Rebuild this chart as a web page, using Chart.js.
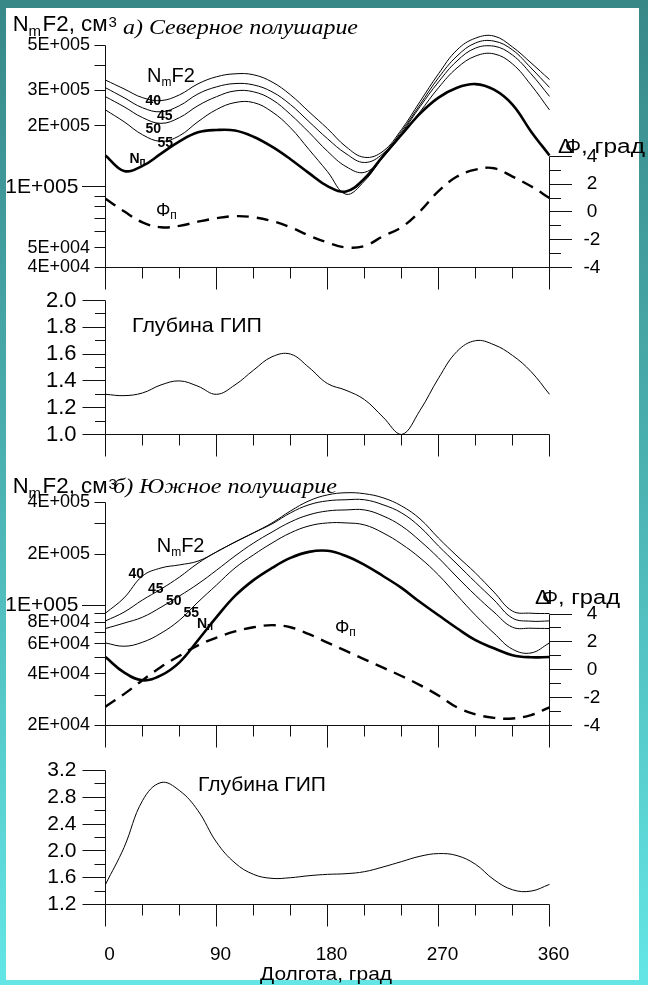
<!DOCTYPE html>
<html>
<head>
<meta charset="utf-8">
<script src="https://cdn.jsdelivr.net/npm/chart.js@4/dist/chart.umd.min.js"></script>
<style>
  html, body { margin: 0; padding: 0; }
  body {
    width: 648px; height: 985px; position: relative; overflow: hidden;
    background: linear-gradient(to bottom, #388888 0%, #4cb3b3 50%, #64e6e6 100%);
  }
  #sheet { position: absolute; left: 6px; top: 8px; width: 633px; height: 972px; background: #fff; }
  canvas { position: absolute; left: 0; top: 0; }
</style>
</head>
<body>
<div id="sheet"></div>
<canvas id="northNe" width="648" height="985"></canvas>
<canvas id="northDepthChart" width="648" height="985"></canvas>
<canvas id="southNe" width="648" height="985"></canvas>
<canvas id="southDepthChart" width="648" height="985"></canvas>
<script>
// ---- longitude grid and axis ticks ----
const longitudes = [0, 15, 30, 45, 60, 75, 90, 105, 120, 135, 150, 165, 180,
                    195, 210, 225, 240, 255, 270, 285, 300, 315, 330, 345, 360];
const lonTicks  = [0, 30, 60, 90, 120, 150, 180, 210, 240, 270, 300, 330, 360];
const lonLabels = [0, 90, 180, 270, 360];

const northNeTicks  = [4e4, 5e4, 6e4, 7e4, 8e4, 9e4, 1e5, 2e5, 3e5, 4e5, 5e5];
const northNeLabels = [4e4, 5e4, 1e5, 2e5, 3e5, 5e5];
const southNeTicks  = [2e4, 3e4, 4e4, 5e4, 6e4, 7e4, 8e4, 9e4, 1e5, 2e5, 3e5, 4e5];
const southNeLabels = [2e4, 4e4, 6e4, 8e4, 1e5, 2e5, 4e5];
const dPhiTicks  = [-4, -3, -2, -1, 0, 1, 2, 3, 4];
const dPhiLabels = [-4, -2, 0, 2, 4];
const northDepthTicks  = [1.0, 1.1, 1.2, 1.3, 1.4, 1.5, 1.6, 1.7, 1.8, 1.9, 2.0];
const northDepthLabels = [1.0, 1.2, 1.4, 1.6, 1.8, 2.0];
const southDepthTicks  = [1.2, 1.4, 1.6, 1.8, 2.0, 2.2, 2.4, 2.6, 2.8, 3.0, 3.2];
const southDepthLabels = [1.2, 1.6, 2.0, 2.4, 2.8, 3.2];

// ---- а) Северное полушарие: NmF2 (см^-3) at latitudes 40..55, trough minimum Nп ----
const north40 = [3.37e5, 3.05e5, 2.76e5, 2.67e5, 2.85e5, 3.23e5, 3.50e5, 3.62e5, 3.58e5, 3.30e5, 2.85e5, 2.35e5, 1.94e5,
                 1.58e5, 1.40e5, 1.50e5, 1.92e5, 2.64e5, 3.62e5, 4.75e5, 5.43e5, 5.56e5, 4.91e5, 4.10e5, 3.39e5];
const north45 = [3.09e5, 2.76e5, 2.46e5, 2.35e5, 2.52e5, 2.88e5, 3.12e5, 3.24e5, 3.19e5, 2.95e5, 2.55e5, 2.10e5, 1.73e5,
                 1.46e5, 1.32e5, 1.46e5, 1.88e5, 2.55e5, 3.46e5, 4.43e5, 5.14e5, 5.25e5, 4.75e5, 3.87e5, 3.10e5];
const north50 = [2.79e5, 2.49e5, 2.20e5, 2.06e5, 2.20e5, 2.52e5, 2.79e5, 2.98e5, 2.95e5, 2.70e5, 2.28e5, 1.86e5, 1.50e5,
                 1.26e5, 1.18e5, 1.40e5, 1.84e5, 2.49e5, 3.30e5, 4.19e5, 4.85e5, 4.96e5, 4.48e5, 3.62e5, 2.80e5];
const north55 = [2.40e5, 2.10e5, 1.81e5, 1.68e5, 1.79e5, 2.10e5, 2.41e5, 2.61e5, 2.61e5, 2.35e5, 1.96e5, 1.53e5, 1.19e5,
                 9.2e4, 1.07e5, 1.41e5, 1.81e5, 2.35e5, 3.09e5, 3.87e5, 4.43e5, 4.54e5, 4.05e5, 3.19e5, 2.40e5];
const northTrough = [1.43e5, 1.20e5, 1.27e5, 1.46e5, 1.68e5, 1.86e5, 1.91e5, 1.90e5, 1.77e5, 1.58e5, 1.37e5, 1.17e5, 1.01e5,
                     9.5e4, 1.10e5, 1.42e5, 1.81e5, 2.30e5, 2.76e5, 3.09e5, 3.22e5, 3.02e5, 2.55e5, 1.88e5, 1.43e5];
// trough position offset ΔΦ, град
const northPhi = [0.95, 0.05, -0.75, -1.1, -1.0, -0.7, -0.45, -0.3, -0.38, -0.65, -1.1, -1.7, -2.2,
                  -2.55, -2.45, -1.75, -1.1, 0.05, 1.5, 2.55, 3.05, 3.15, 2.55, 1.85, 1.0];
// trough depth (Глубина ГИП)
const northDepth = [1.30, 1.29, 1.31, 1.37, 1.40, 1.36, 1.30, 1.37, 1.48, 1.58, 1.60, 1.50, 1.38,
                    1.33, 1.26, 1.13, 1.00, 1.18, 1.42, 1.62, 1.70, 1.67, 1.59, 1.47, 1.30];

// ---- б) Южное полушарие ----
const south40 = [9.05e4, 1.11e5, 1.49e5, 1.66e5, 1.73e5, 1.82e5, 2.06e5, 2.35e5, 2.66e5, 3.04e5, 3.57e5, 4.09e5, 4.43e5,
                 4.56e5, 4.50e5, 4.26e5, 3.82e5, 3.21e5, 2.48e5, 1.95e5, 1.55e5, 1.20e5, 9.3e4, 9.04e4, 9.0e4];
const south45 = [8.15e4, 9.17e4, 1.08e5, 1.25e5, 1.47e5, 1.77e5, 2.06e5, 2.35e5, 2.66e5, 3.00e5, 3.48e5, 3.88e5, 4.09e5,
                 4.15e5, 4.15e5, 3.88e5, 3.48e5, 2.88e5, 2.23e5, 1.75e5, 1.37e5, 1.08e5, 8.46e4, 8.12e4, 8.15e4];
const south50 = [7.36e4, 7.91e4, 8.57e4, 9.80e4, 1.14e5, 1.34e5, 1.61e5, 1.95e5, 2.32e5, 2.69e5, 3.08e5, 3.39e5, 3.57e5,
                 3.62e5, 3.62e5, 3.34e5, 2.92e5, 2.39e5, 1.90e5, 1.47e5, 1.15e5, 9.17e4, 7.49e4, 7.39e4, 7.36e4];
const south55 = [6.06e4, 5.80e4, 6.12e4, 6.91e4, 8.23e4, 1.05e5, 1.32e5, 1.66e5, 1.98e5, 2.32e5, 2.66e5, 2.92e5, 3.04e5,
                 3.04e5, 2.96e5, 2.66e5, 2.29e5, 1.90e5, 1.51e5, 1.15e5, 8.80e4, 6.91e4, 5.57e4, 5.30e4, 6.06e4];
const southTrough = [5.02e4, 4.08e4, 3.67e4, 3.92e4, 4.67e4, 6.29e4, 8.57e4, 1.14e5, 1.41e5, 1.66e5, 1.90e5, 2.06e5, 2.09e5,
                     1.95e5, 1.73e5, 1.49e5, 1.27e5, 1.05e5, 8.80e4, 7.39e4, 6.29e4, 5.64e4, 5.14e4, 5.00e4, 5.02e4];
const southPhi = [-2.65, -1.75, -0.75, 0.2, 1.0, 1.75, 2.3, 2.75, 3.05, 3.2, 3.05, 2.55, 1.95,
                  1.35, 0.75, 0.15, -0.45, -1.1, -1.85, -2.7, -3.2, -3.45, -3.5, -3.25, -2.7];
const southDepth = [1.50, 2.05, 2.75, 3.02, 2.90, 2.60, 2.13, 1.82, 1.65, 1.59, 1.60, 1.63, 1.65,
                    1.66, 1.69, 1.76, 1.84, 1.92, 1.96, 1.93, 1.80, 1.57, 1.42, 1.40, 1.50];

// ---- page geometry ----
const W = 648, H = 985;
const PLOT_L = 105.5, PLOT_R = 549.5;
const SANS = '"Liberation Sans", Arial, sans-serif';
const SERIF = '"Liberation Serif", "Times New Roman", serif';

const near = (list, v) => list.some(l => Math.abs(l - v) <= 1e-6 * Math.max(1, Math.abs(l)));
const sci = v => {
  const e = Math.floor(Math.log10(v) + 1e-9);
  return Math.round(v / Math.pow(10, e)) + 'E+' + String(e).padStart(3, '0');
};
const points = vals => longitudes.map((lon, i) => ({ x: lon, y: vals[i] }));
const snap = v => Math.round(v - 0.5) + 0.5;

function thinLine(vals) { return { data: points(vals), borderWidth: 1, yAxisID: 'y' }; }
function thickLine(vals) { return { data: points(vals), borderWidth: 2.6, yAxisID: 'y' }; }
function dashLine(vals) { return { data: points(vals), borderWidth: 2.4, borderDash: [12, 8], yAxisID: 'phi' }; }

function seg(ctx, x1, y1, x2, y2) { ctx.beginPath(); ctx.moveTo(x1, y1); ctx.lineTo(x2, y2); ctx.stroke(); }

// axis lines and tick marks, placed from the chart's own scales
function drawAxes(chart, cfg) {
  const ctx = chart.ctx, a = chart.chartArea;
  const ys = chart.scales.y, xs = chart.scales.x, ps = chart.scales.phi;
  const L = snap(a.left), B = snap(a.bottom), R = snap(a.right);
  ctx.save();
  ctx.strokeStyle = '#111'; ctx.lineWidth = 1; ctx.setLineDash([]);
  seg(ctx, L, snap(a.top), L, B);
  seg(ctx, L, B, R, B);
  ys.ticks.forEach(t => {
    const p = snap(ys.getPixelForValue(t.value));
    seg(ctx, L - cfg.leftLen(t.value), p, L, p);
  });
  xs.ticks.forEach(t => {
    const p = snap(xs.getPixelForValue(t.value));
    seg(ctx, p, B, p, B + (near(lonLabels, t.value) ? 22 : 11));
  });
  if (ps) {
    seg(ctx, R, snap(ps.getPixelForValue(Math.max(...dPhiTicks))), R, B);
    ps.ticks.forEach(t => {
      const p = snap(ps.getPixelForValue(t.value));
      seg(ctx, R, p, R + (near(dPhiLabels, t.value) ? 22.5 : 11.5), p);
    });
  }
  ctx.restore();
}

// text made of runs (sub/superscripts), optionally fitted to a width
function drawRuns(ctx, item) {
  ctx.save();
  ctx.fillStyle = '#000'; ctx.textAlign = 'left'; ctx.textBaseline = 'alphabetic';
  let cx = item.x;
  item.runs.forEach(r => {
    cx += r.dx || 0;
    ctx.font = (r.style || '') + ' ' + r.size + 'px ' + (r.family || SANS);
    const w = ctx.measureText(r.t).width;
    const k = r.w ? r.w / w : 1;
    ctx.save();
    ctx.translate(cx, item.y + (r.dy || 0));
    ctx.scale(k, 1);
    ctx.fillText(r.t, 0, 0);
    ctx.restore();
    cx += w * k;
  });
  ctx.restore();
}

function decor(cfg) {
  return {
    id: 'decor',
    beforeDatasetsDraw(chart) { drawAxes(chart, cfg); },
    afterDraw(chart) { cfg.texts.forEach(t => drawRuns(chart.ctx, t)); }
  };
}

function xScale(bottom, showLabels) {
  return {
    type: 'linear', position: 'bottom', min: 0, max: 360,
    afterBuildTicks: s => { s.ticks = lonTicks.map(v => ({ value: v })); },
    afterFit: s => { s.height = H - bottom; },
    grid: { display: false, drawTicks: false }, border: { display: false },
    ticks: {
      display: showLabels, autoSkip: false, maxRotation: 0, minRotation: 0, padding: 39, labelOffset: 4,
      color: '#000', font: { family: SANS, size: 19 },
      callback: v => near(lonLabels, v) ? String(v) : ''
    }
  };
}

function logScale(min, max, tickVals, labelVals) {
  return {
    type: 'logarithmic', position: 'left', min, max,
    afterBuildTicks: s => { s.ticks = tickVals.map(v => ({ value: v })); },
    afterFit: s => { s.width = PLOT_L; },
    grid: { display: false, drawTicks: false }, border: { display: false },
    ticks: {
      autoSkip: false, padding: 15.5, color: '#000',
      font: c => ({ family: SANS, size: (c.tick && c.tick.value === 1e5) ? 21 : 18 }),
      callback: v => near(labelVals, v) ? sci(v) + (v === 1e5 ? '  ' : '') : ''
    }
  };
}

function depthScale(min, max, tickVals, labelVals, size) {
  return {
    type: 'linear', position: 'left', min, max,
    afterBuildTicks: s => { s.ticks = tickVals.map(v => ({ value: v })); },
    afterFit: s => { s.width = PLOT_L; },
    grid: { display: false, drawTicks: false }, border: { display: false },
    ticks: {
      autoSkip: false, padding: 29, color: '#000', font: { family: SANS, size },
      callback: v => near(labelVals, v) ? v.toFixed(1) : ''
    }
  };
}

const phiScale = {
  type: 'linear', position: 'right', min: -4, max: 12,
  afterBuildTicks: s => { s.ticks = dPhiTicks.map(v => ({ value: v })); },
  afterFit: s => { s.width = W - PLOT_R; },
  grid: { display: false, drawTicks: false }, border: { display: false },
  ticks: {
    autoSkip: false, crossAlign: 'center', padding: 34, color: '#000',
    font: { family: SANS, size: 19 },
    callback: v => near(dPhiLabels, v) ? String(v) : ''
  }
};

function panel(id, top, bottom, scales, datasets, cfg, rightPad) {
  return new Chart(document.getElementById(id), {
    type: 'line',
    data: { datasets },
    options: {
      responsive: false, maintainAspectRatio: false, animation: false, devicePixelRatio: 1,
      events: [],
      layout: { padding: { top, left: 0, right: rightPad, bottom: 0 } },
      elements: {
        line: { tension: 0.4, borderColor: '#000', fill: false, capBezierPoints: true },
        point: { radius: 0 }
      },
      datasets: { line: { clip: false } },
      plugins: { legend: { display: false }, tooltip: { enabled: false }, title: { display: false } },
      scales
    },
    plugins: [decor(cfg)]
  });
}

const neTickLen = v => v === 1e5 ? 23.5 : 11;

// а) Северное полушарие — NmF2 and ΔΦ
panel('northNe', 43.5, 267.5,
  { x: xScale(267.5, false), y: logScale(4e4, 5e5, northNeTicks, northNeLabels), phi: phiScale },
  [thinLine(north40), thinLine(north45), thinLine(north50), thinLine(north55),
   thickLine(northTrough), dashLine(northPhi)],
  {
    leftLen: neTickLen,
    texts: [
      { x: 12.7, y: 31, runs: [{ t: 'N', size: 22 }, { t: 'm', size: 15, dy: 5 },
                               { t: 'F2, см', size: 22, dx: 1.5, w: 65 }, { t: '3', size: 15, dy: -4, dx: 1 }] },
      { x: 123, y: 34, runs: [{ t: 'а) Северное полушарие', size: 22, style: 'italic', family: SERIF, w: 235 }] },
      { x: 147, y: 81.7, runs: [{ t: 'N', size: 20 }, { t: 'm', size: 12, dy: 4 }, { t: 'F2', size: 20 }] },
      { x: 145.5, y: 105, runs: [{ t: '40', size: 14, style: 'bold' }] },
      { x: 157, y: 120, runs: [{ t: '45', size: 14, style: 'bold' }] },
      { x: 145.5, y: 132.7, runs: [{ t: '50', size: 14, style: 'bold' }] },
      { x: 157.5, y: 146.7, runs: [{ t: '55', size: 14, style: 'bold' }] },
      { x: 129.5, y: 163, runs: [{ t: 'N', size: 14, style: 'bold' }, { t: 'п', size: 10, style: 'bold', dy: 2 }] },
      { x: 156, y: 216, runs: [{ t: 'Φ', size: 18 }, { t: 'п', size: 12, dy: 3 }] },
      { x: 558, y: 153, runs: [{ t: 'Δ', size: 20, w: 15 }, { t: 'Φ', size: 20, dx: -8 }, { t: ', град', size: 20, w: 64 }] }
    ]
  }, 0);

// глубина ГИП, северное полушарие
panel('northDepthChart', 300.5, 434.5,
  { x: xScale(434.5, false), y: depthScale(1.0, 2.0, northDepthTicks, northDepthLabels, 22) },
  [thinLine(northDepth)],
  {
    leftLen: v => near(northDepthLabels, v) ? 23 : 10.5,
    texts: [{ x: 132, y: 331.5, runs: [{ t: 'Глубина ГИП', size: 21, w: 130 }] }]
  }, W - PLOT_R);

// б) Южное полушарие — NmF2 and ΔΦ
panel('southNe', 502.5, 725.5,
  { x: xScale(725.5, false), y: logScale(2e4, 4e5, southNeTicks, southNeLabels), phi: phiScale },
  [thinLine(south40), thinLine(south45), thinLine(south50), thinLine(south55),
   thickLine(southTrough), dashLine(southPhi)],
  {
    leftLen: neTickLen,
    texts: [
      { x: 12.7, y: 492.5, runs: [{ t: 'N', size: 22 }, { t: 'm', size: 15, dy: 5 },
                                  { t: 'F2, см', size: 22, dx: 1.5, w: 65 }, { t: '3', size: 15, dy: -4, dx: 1 }] },
      { x: 113, y: 493, runs: [{ t: 'б) Южное полушарие', size: 22, style: 'italic', family: SERIF, w: 224 }] },
      { x: 156.7, y: 551.7, runs: [{ t: 'N', size: 20 }, { t: 'm', size: 12, dy: 4 }, { t: 'F2', size: 20 }] },
      { x: 128.5, y: 577.5, runs: [{ t: '40', size: 14, style: 'bold' }] },
      { x: 148, y: 592.7, runs: [{ t: '45', size: 14, style: 'bold' }] },
      { x: 166, y: 605, runs: [{ t: '50', size: 14, style: 'bold' }] },
      { x: 183.5, y: 616.7, runs: [{ t: '55', size: 14, style: 'bold' }] },
      { x: 197, y: 628.3, runs: [{ t: 'N', size: 14, style: 'bold' }, { t: 'п', size: 10, style: 'bold', dy: 2 }] },
      { x: 335, y: 633, runs: [{ t: 'Φ', size: 18 }, { t: 'п', size: 12, dy: 3 }] },
      { x: 535, y: 604, runs: [{ t: 'Δ', size: 20, w: 15 }, { t: 'Φ', size: 20, dx: -8 }, { t: ', град', size: 20, w: 62 }] }
    ]
  }, 0);

// глубина ГИП, южное полушарие, with the longitude axis
panel('southDepthChart', 770.5, 904.5,
  { x: xScale(904.5, true), y: depthScale(1.2, 3.2, southDepthTicks, southDepthLabels, 21) },
  [thinLine(southDepth)],
  {
    leftLen: v => near(southDepthLabels, v) ? 23 : 11,
    texts: [
      { x: 198, y: 790.5, runs: [{ t: 'Глубина ГИП', size: 21, w: 128 }] },
      { x: 260, y: 980, runs: [{ t: 'Долгота, град', size: 19, w: 132 }] }
    ]
  }, W - PLOT_R);
</script>
</body>
</html>
